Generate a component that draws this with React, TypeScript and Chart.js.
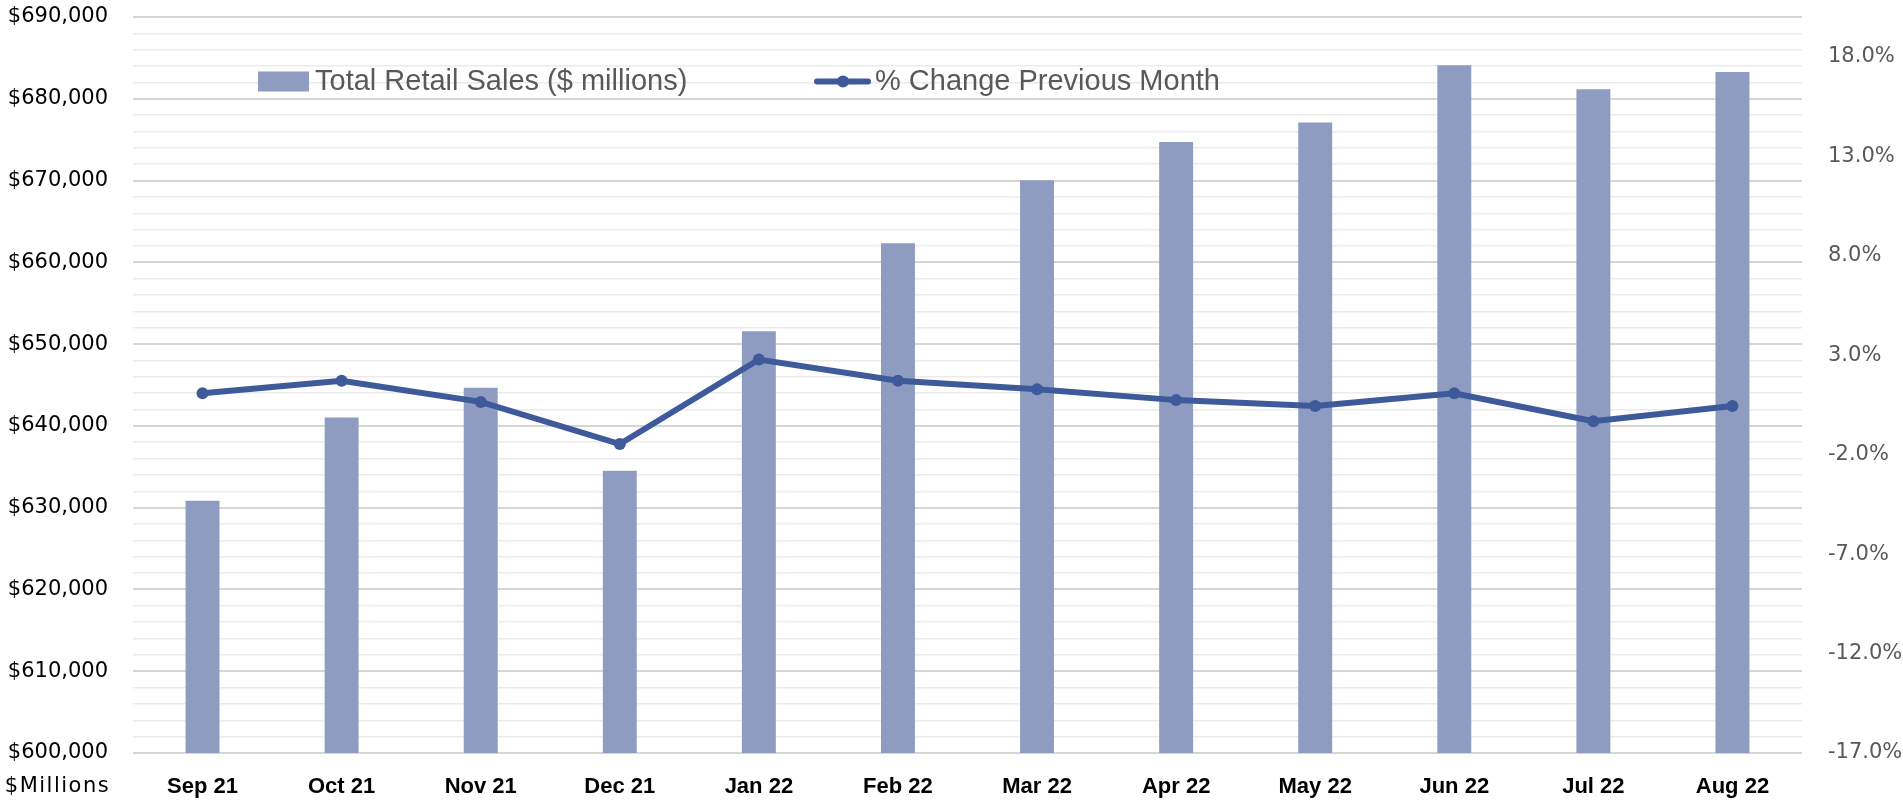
import React, { useEffect, useRef } from "react";
import { Chart, registerables } from "chart.js";

Chart.register(...registerables);

const months = ["Sep 21", "Oct 21", "Nov 21", "Dec 21", "Jan 22", "Feb 22", "Mar 22", "Apr 22", "May 22", "Jun 22", "Jul 22", "Aug 22"];
const retailSales = [630840, 641030, 644650, 634510, 651580, 662340, 670040, 674720, 677090, 684100, 681160, 683280];
const pctChange = [1.08, 1.71, 0.65, -1.47, 2.78, 1.71, 1.29, 0.74, 0.44, 1.08, -0.32, 0.44];
const leftTicks = [600000, 610000, 620000, 630000, 640000, 650000, 660000, 670000, 680000, 690000];
const rightTicks = [-17, -12, -7, -2, 3, 8, 13, 18];
const leftMinorStep = 2000;
const unitLabel = "$Millions";

const BAR_COLOR = "#8f9cc2";
const LINE_COLOR = "#3f5a9b";
const TICK_FONT = "'DejaVu Sans', sans-serif";
const LEGEND_FONT = "'Liberation Sans', Arial, sans-serif";

const floatLegend = {
  id: "floatLegend",
  afterDraw(chart: any) {
    const ctx = chart.ctx;
    const a = chart.chartArea;
    const ds = chart.data.datasets;
    const cy = a.top + 64.5;
    ctx.save();
    ctx.font = `29px ${LEGEND_FONT}`;
    ctx.textBaseline = "middle";
    ctx.textAlign = "left";
    // bar item
    ctx.fillStyle = BAR_COLOR;
    ctx.fillRect(a.left + 125, cy - 10, 51, 20);
    ctx.fillStyle = "#595959";
    ctx.fillText(ds[1].label, a.left + 182, cy);
    // line item
    ctx.strokeStyle = LINE_COLOR;
    ctx.lineWidth = 6;
    ctx.lineCap = "round";
    ctx.beginPath();
    ctx.moveTo(a.left + 684, cy);
    ctx.lineTo(a.left + 735, cy);
    ctx.stroke();
    ctx.fillStyle = LINE_COLOR;
    ctx.beginPath();
    ctx.arc(a.left + 710, cy, 6, 0, Math.PI * 2);
    ctx.fill();
    ctx.fillStyle = "#595959";
    ctx.fillText(ds[0].label, a.left + 742, cy);
    // unit label under left axis
    const y = chart.scales.y;
    ctx.font = `21px ${TICK_FONT}`;
    ctx.fillStyle = "#000000";
    ctx.textAlign = "center";
    try {
      (ctx as any).letterSpacing = "1.5px";
    } catch (e) {}
    ctx.fillText(unitLabel, (y.left + y.right - 18) / 2, a.bottom + 34);
    ctx.restore();
  },
};

export default function App() {
  const ref = useRef<HTMLCanvasElement | null>(null);

  useEffect(() => {
    if (!ref.current) return;
    const chart = new Chart(ref.current, {
      type: "bar",
      data: {
        labels: months,
        datasets: [
          {
            type: "line",
            label: "% Change Previous Month",
            data: pctChange,
            yAxisID: "y1",
            borderColor: LINE_COLOR,
            backgroundColor: LINE_COLOR,
            borderWidth: 6,
            pointRadius: 6,
            pointBackgroundColor: LINE_COLOR,
            pointBorderWidth: 0,
            tension: 0,
            order: 0,
          } as any,
          {
            type: "bar",
            label: "Total Retail Sales ($ millions)",
            data: retailSales,
            yAxisID: "y",
            backgroundColor: BAR_COLOR,
            borderWidth: 0,
            categoryPercentage: 1,
            barPercentage: 0.244,
            order: 1,
          } as any,
        ],
      },
      options: {
        animation: false,
        responsive: true,
        maintainAspectRatio: false,
        layout: { padding: { top: 17, left: 0, right: 0, bottom: 0 } },
        plugins: { legend: { display: false }, tooltip: { enabled: false } },
        scales: {
          x: {
            grid: { display: false, drawTicks: false },
            border: { display: false },
            ticks: {
              color: "#000000",
              font: { family: LEGEND_FONT, size: 22, weight: "bold" },
              padding: 21,
              maxRotation: 0,
              autoSkip: false,
            },
            afterFit: (s: any) => {
              s.height = 52;
            },
          },
          y: {
            position: "left",
            min: leftTicks[0],
            max: leftTicks[leftTicks.length - 1],
            afterBuildTicks: (s: any) => {
              const t = [];
              for (let v = leftTicks[0]; v <= leftTicks[leftTicks.length - 1]; v += leftMinorStep) t.push({ value: v });
              s.ticks = t;
            },
            grid: {
              drawTicks: false,
              color: (c: any) => (c.tick && leftTicks.includes(c.tick.value) ? "#d6d6d6" : "#ebebeb"),
              lineWidth: (c: any) => (c.tick && leftTicks.includes(c.tick.value) ? 2 : 1.5),
            },
            border: { display: false },
            ticks: {
              autoSkip: false,
              color: "#000000",
              padding: 25,
              font: { family: TICK_FONT, size: 21 },
              callback: (v: any) => (leftTicks.includes(Number(v)) ? "$" + Number(v).toLocaleString("en-US") : ""),
            },
            afterFit: (s: any) => {
              s.width = 133;
              s.paddingTop = 0;
              s.paddingBottom = 0;
            },
          },
          y1: {
            position: "right",
            min: -17,
            max: 20,
            afterBuildTicks: (s: any) => {
              s.ticks = rightTicks.map((v) => ({ value: v }));
            },
            grid: { display: false, drawTicks: false },
            border: { display: false },
            ticks: {
              autoSkip: false,
              color: "#595959",
              padding: 26,
              font: { family: TICK_FONT, size: 21 },
              callback: (v: any) => Number(v).toFixed(1) + "%",
            },
            afterFit: (s: any) => {
              s.width = 101;
              s.paddingTop = 0;
              s.paddingBottom = 0;
            },
          },
        },
      },
      plugins: [floatLegend],
    });
    return () => chart.destroy();
  }, []);

  return (
    <div style={{ position: "fixed", left: 0, top: 0, width: 1903, height: 805, background: "#ffffff" }}>
      <canvas ref={ref} style={{ display: "block" }} />
    </div>
  );
}
